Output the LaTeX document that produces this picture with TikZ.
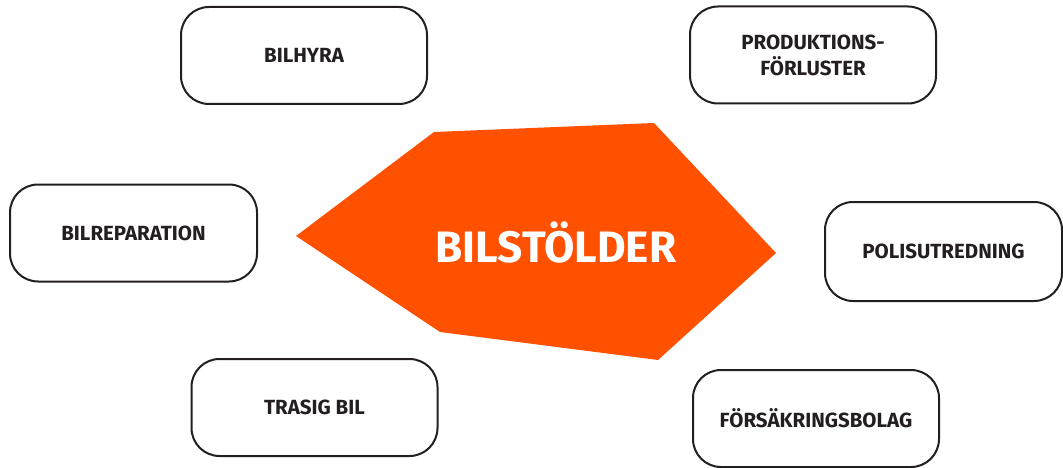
\documentclass[tikz,border=0pt]{standalone}
\usepackage{fontspec}
\setmainfont{Fira Sans}
\definecolor{tjuvorange}{HTML}{FF5100}
\definecolor{textgray}{HTML}{231F20}
\begin{document}
\begin{tikzpicture}[x=1pt,y=-1pt]
      \tikzset{every node/.style={font=\bfseries\fontsize{20.5}{26}\selectfont, text=textgray, align=center},
        ruta/.style={draw=textgray, line width=2pt, rounded corners=28pt, fill=white,
          minimum width=246pt, minimum height=97pt, inner sep=0pt}}
      \path[use as bounding box] (0,0) rectangle (1063,468);

      % mitten
      \fill[tjuvorange] (296,236) -- (434,132) -- (654,123) -- (776,253)
        -- (658,360) -- (440,332) -- cycle;
      \node[text=white, font=\bfseries\fontsize{44}{48}\selectfont] (stold) at (556,243) {BILSTÖLDER};

      % rutor runt om
      \node[ruta] (hyra) at (304,55.5) {BILHYRA};
      \node[ruta, minimum width=246pt] (prod) at (813,55) {PRODUKTIONS-\\FÖRLUSTER};
      \node[ruta, minimum width=247pt] (repar) at (133.5,233) {BILREPARATION};
      \node[ruta, minimum width=237pt, minimum height=99pt] (polis) at (943.5,251.5) {POLISUTREDNING};
      \node[ruta] (trasig) at (314.5,407.5) {TRASIG BIL};
      \node[ruta] (forsak) at (816,418.5) {FÖRSÄKRINGSBOLAG};
    \end{tikzpicture}
\end{document}
